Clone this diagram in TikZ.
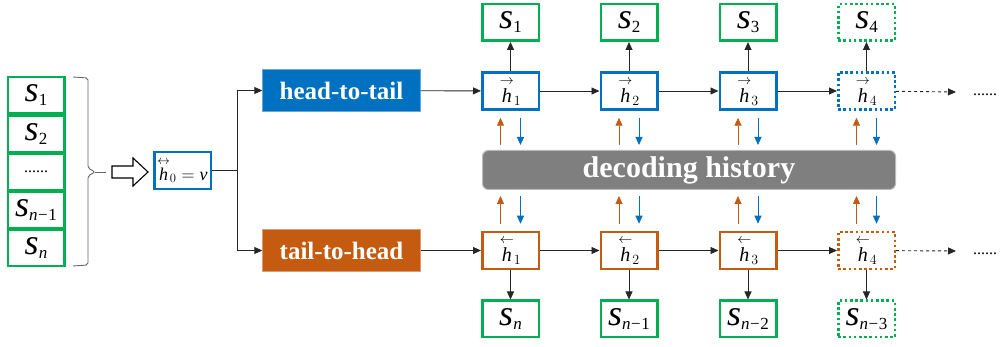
\RequirePackage{fix-cm}
\documentclass[tikz,border=0pt]{standalone}
\usepackage{amsmath}
\usepackage{fontspec}
\setmainfont{Liberation Serif}
\usetikzlibrary{arrows.meta,calc}

\definecolor{wgreen}{HTML}{00B050}
\definecolor{hblue}{HTML}{0070C0}
\definecolor{horange}{HTML}{C55A11}
\definecolor{hgray}{HTML}{7F7F7F}

% a word of the sequence and a hidden state
\newcommand{\seqw}[1]{{\fontsize{36}{36}\selectfont\itshape s}\raisebox{-4pt}{\fontsize{17}{17}\selectfont #1}}
\newcommand{\hst}[2]{{\fontsize{20}{20}\selectfont$\overset{#1}{\mathit{h}}_{#2}$}}
\newcommand{\nmin}[1]{{\itshape n}\kern0.5pt−\kern0.5pt#1}

\tikzset{
  >={Triangle[length=8pt,width=7pt]},
  line/.style={draw=black!85, line width=0.9pt},
  wordbox/.style={draw=wgreen, line width=2.5pt, minimum width=56.5pt, minimum height=36.5pt, inner sep=0pt},
  fwdbox/.style={draw=hblue, line width=2.5pt, minimum width=56.5pt, minimum height=37pt, inner sep=0pt},
  bwdbox/.style={draw=horange, line width=2.5pt, minimum width=56.5pt, minimum height=37pt, inner sep=0pt},
  later/.style={dash pattern=on 2.6pt off 2.6pt},
  band/.style={minimum width=158pt, minimum height=42pt, text=white, font=\bfseries\fontsize{25}{25}\selectfont},
  upflow/.style={->, draw=horange, line width=0.9pt},
  downflow/.style={->, draw=hblue, line width=0.9pt},
  dots/.style={font=\fontsize{16}{16}\selectfont, anchor=base, inner sep=0pt}
}

\begin{document}
\begin{tikzpicture}[x=1pt, y=-1pt]
\useasboundingbox (0,0) rectangle (1002,347);

% input sequence
\node[wordbox] (w1) at (36,95.5) {\seqw{1}};
\node[wordbox] (w2) at (36,134) {\seqw{2}};
\node[wordbox] (w3) at (36,172) {\fontsize{16}{16}\selectfont ......};
\node[wordbox] (w4) at (36,210) {\seqw{\nmin{1}}};
\node[wordbox] (w5) at (36,248) {\seqw{\itshape n}};
\draw[draw=black!60, line width=0.9pt, rounded corners=2pt] (73,77) -- (88,78) -- (88,168) -- (95,172) -- (88,176) -- (88,265) -- (73,266);
\draw[draw=black!60, line width=0.9pt] (95,172) -- (106,172);
\draw[line width=1.1pt, fill=white] (112,166) -- (133,166) -- (133,158) -- (148,172) -- (133,186) -- (133,178) -- (112,178) -- cycle;

% initial state
\node[fwdbox] (h0) at (182.5,170.5) {\fontsize{18}{18}\selectfont$\overset{\leftrightarrow}{\mathit{h}}_0=\mathit{v}$};
\coordinate (split) at (237,170.5);
\node[band, fill=hblue, draw=hblue!60] (ht) at (341.5,90.5) {head-to-tail};
\node[band, fill=horange, draw=horange!60] (th) at (341.5,250.5) {tail-to-head};
\draw[line] (h0) -- (split);
\draw[line, ->] (split) |- (ht);
\draw[line, ->] (split) |- (th);

% shared history
\node[draw=hgray!55, line width=1pt, fill=hgray, rounded corners=6pt, minimum width=413pt, minimum height=39pt,
  text=white, font=\bfseries\fontsize{30}{30}\selectfont] (dh) at (689,170) {decoding history};

% head-to-tail decoder
\node[fwdbox] (f1) at (510.5,91) {\hst{\rightarrow}{1}};
\node[fwdbox] (f2) at (629,91) {\hst{\rightarrow}{2}};
\node[fwdbox] (f3) at (748,91) {\hst{\rightarrow}{3}};
\node[fwdbox, later] (f4) at (866.5,91) {\hst{\rightarrow}{4}};
\node[wordbox] (o1) at (510.5,22.5) {\seqw{1}};
\node[wordbox] (o2) at (629,22.5) {\seqw{2}};
\node[wordbox] (o3) at (748,22.5) {\seqw{3}};
\node[wordbox, later] (o4) at (866.5,22.5) {\seqw{4}};
\coordinate (fnext) at (956,92);
\node[dots] (fdots) at (985,96) {......};
\draw[line, ->] (ht) -- (f1);
\draw[line, ->] (f1) -- (f2);
\draw[line, ->] (f2) -- (f3);
\draw[line, ->] (f3) -- (f4);
\draw[line, ->, dashed] (f4) -- (fnext);
\draw[line, ->] (f1) -- (o1);
\draw[line, ->] (f2) -- (o2);
\draw[line, ->] (f3) -- (o3);
\draw[line, ->] (f4) -- (o4);

% tail-to-head decoder
\node[bwdbox] (b1) at (510.5,250.5) {\hst{\leftarrow}{1}};
\node[bwdbox] (b2) at (629,250.5) {\hst{\leftarrow}{2}};
\node[bwdbox] (b3) at (748,250.5) {\hst{\leftarrow}{3}};
\node[bwdbox, later] (b4) at (866.5,250.5) {\hst{\leftarrow}{4}};
\node[wordbox] (p1) at (510.5,319) {\seqw{\itshape n}};
\node[wordbox] (p2) at (629,319) {\seqw{\nmin{1}}};
\node[wordbox] (p3) at (748,319) {\seqw{\nmin{2}}};
\node[wordbox, later] (p4) at (866.5,319) {\seqw{\nmin{3}}};
\coordinate (bnext) at (956,251);
\node[dots] (bdots) at (985,255) {......};
\draw[line, ->] (th) -- (b1);
\draw[line, ->] (b1) -- (b2);
\draw[line, ->] (b2) -- (b3);
\draw[line, ->] (b3) -- (b4);
\draw[line, ->, dashed] (b4) -- (bnext);
\draw[line, ->] (b1) -- (p1);
\draw[line, ->] (b2) -- (p2);
\draw[line, ->] (b3) -- (p3);
\draw[line, ->] (b4) -- (p4);

% reading and writing the history
\draw[upflow] ($(dh.north -| f1)+(-10,-5)$) -- ($(f1.south)+(-10,7)$);
\draw[downflow] ($(f1.south)+(10,7)$) -- ($(dh.north -| f1)+(10,-5)$);
\draw[upflow] ($(dh.north -| f2)+(-10,-5)$) -- ($(f2.south)+(-10,7)$);
\draw[downflow] ($(f2.south)+(10,7)$) -- ($(dh.north -| f2)+(10,-5)$);
\draw[upflow] ($(dh.north -| f3)+(-10,-5)$) -- ($(f3.south)+(-10,7)$);
\draw[downflow] ($(f3.south)+(10,7)$) -- ($(dh.north -| f3)+(10,-5)$);
\draw[upflow] ($(dh.north -| f4)+(-10,-5)$) -- ($(f4.south)+(-10,7)$);
\draw[downflow] ($(f4.south)+(10,7)$) -- ($(dh.north -| f4)+(10,-5)$);
\draw[upflow] ($(b1.north)+(-10,-7)$) -- ($(dh.south -| b1)+(-10,6)$);
\draw[downflow] ($(dh.south -| b1)+(10,6)$) -- ($(b1.north)+(10,-7)$);
\draw[upflow] ($(b2.north)+(-10,-7)$) -- ($(dh.south -| b2)+(-10,6)$);
\draw[downflow] ($(dh.south -| b2)+(10,6)$) -- ($(b2.north)+(10,-7)$);
\draw[upflow] ($(b3.north)+(-10,-7)$) -- ($(dh.south -| b3)+(-10,6)$);
\draw[downflow] ($(dh.south -| b3)+(10,6)$) -- ($(b3.north)+(10,-7)$);
\draw[upflow] ($(b4.north)+(-10,-7)$) -- ($(dh.south -| b4)+(-10,6)$);
\draw[downflow] ($(dh.south -| b4)+(10,6)$) -- ($(b4.north)+(10,-7)$);
\end{tikzpicture}
\end{document}
